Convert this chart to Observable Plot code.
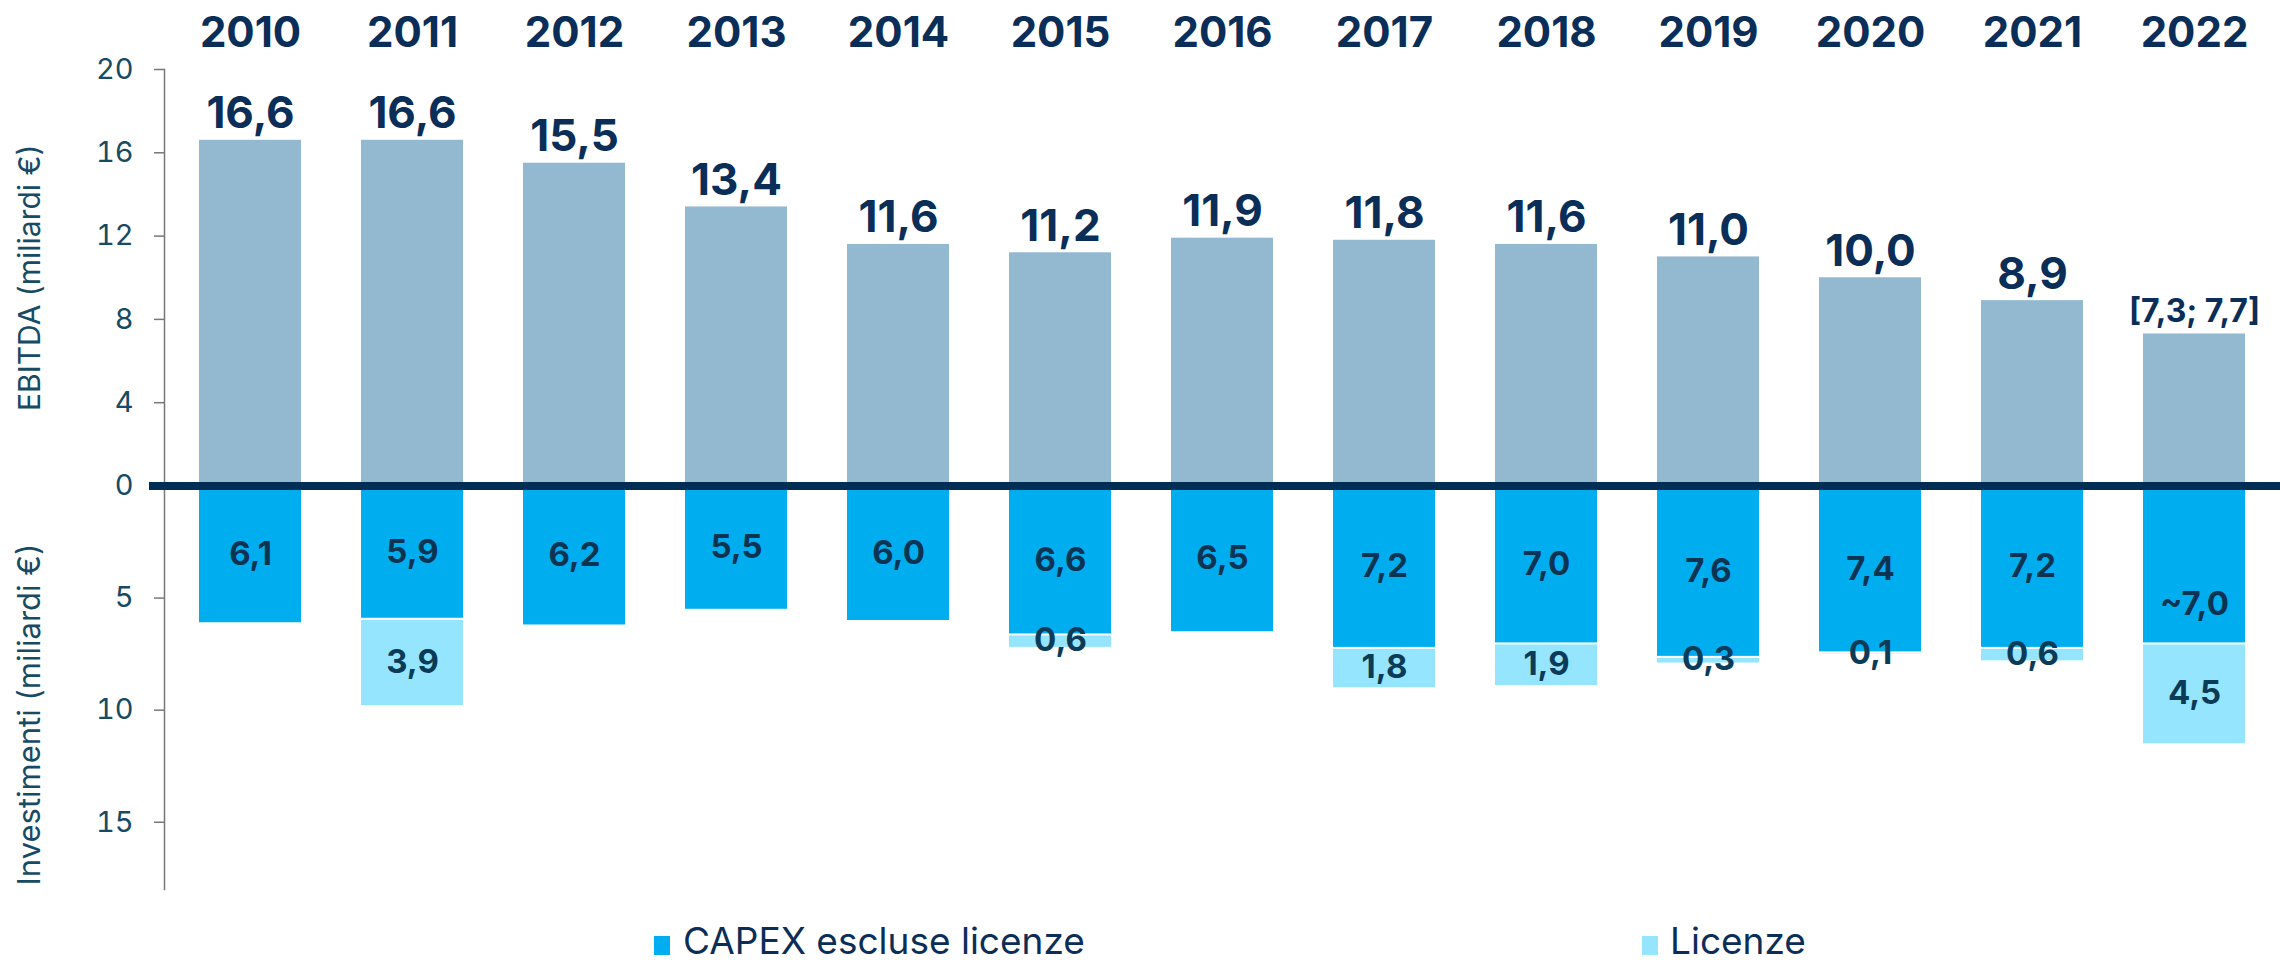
<!DOCTYPE html>
<html>
<head>
<meta charset="utf-8">
<script src="https://cdn.jsdelivr.net/npm/d3@7"></script>
<script src="https://cdn.jsdelivr.net/npm/@observablehq/plot@0.6"></script>
<style>
  html, body { margin: 0; padding: 0; background: #ffffff; }
  #chart { width: 2280px; }
  #legend { position: relative; width: 2280px; height: 45px; font-family: Inter, "Noto Sans", sans-serif; color: #0a2e57; }
  #legend .sw { position: absolute; top: 21px; width: 16px; height: 19px; }
  #legend .lb { position: absolute; top: 7px; font-size: 37px; line-height: 37px; white-space: nowrap; }
</style>
</head>
<body>
<div id="chart"></div>
<div id="legend">
  <span class="sw" style="left:654px;background:#00AEEF"></span>
  <span class="lb" style="left:683px">CAPEX escluse licenze</span>
  <span class="sw" style="left:1642px;background:#96E5FF"></span>
  <span class="lb" style="left:1670px">Licenze</span>
</div>
<script>
const years = ["2010","2011","2012","2013","2014","2015","2016","2017","2018","2019","2020","2021","2022"];
const ebitda = [16.6,16.6,15.5,13.4,11.6,11.2,11.9,11.8,11.6,11.0,10.0,8.9,7.3];
const ebitdaLabels = ["16,6","16,6","15,5","13,4","11,6","11,2","11,9","11,8","11,6","11,0","10,0","8,9","[7,3; 7,7]"];
const capex = [6.1,5.9,6.2,5.5,6.0,6.6,6.5,7.2,7.0,7.6,7.4,7.2,7.0];
const capexLabels = ["6,1","5,9","6,2","5,5","6,0","6,6","6,5","7,2","7,0","7,6","7,4","7,2","~7,0"];
const licenze = [0,3.9,0,0,0,0.6,0,1.8,1.9,0.3,0.1,0.6,4.5];
const licenzeLabels = ["","3,9","","","","0,6","","1,8","1,9","0,3","0,1","0,6","4,5"];
const ticksEbitda = [0,4,8,12,16,20];
const ticksInvest = [5,10,15];
const titleEbitda = "EBITDA (miliardi €)";
const titleInvest = "Investimenti (miliardi €)";

const rows = years.map((year, i) => ({
  year,
  ebitda: ebitda[i], ebitdaLabel: ebitdaLabels[i],
  capex: capex[i], capexLabel: capexLabels[i],
  lic: licenze[i], licLabel: licenzeLabels[i]
}));

const navy = "#0a2e57";
const inner = "#0b3352";
const tickCol = "#174a63";
const W = 2280, H = 915;

const chart = Plot.plot({
  width: W,
  height: H,
  marginLeft: 164,
  marginRight: 0,
  marginTop: 69,
  marginBottom: H - 889,
  style: { fontFamily: "Inter, 'Noto Sans', sans-serif", background: "#ffffff" },
  x: { domain: years, paddingInner: 0.368, paddingOuter: 0.184, axis: null },
  y: { type: "linear", domain: [-18, 0, 20], range: [889, 485.5, 69], axis: null },
  marks: [
    Plot.barY(rows, { x: "year", y1: 0, y2: "ebitda", fill: "#93B9D0" }),
    Plot.barY(rows, { x: "year", y1: 0, y2: d => -d.capex, fill: "#00AEEF" }),
    Plot.barY(rows.filter(d => d.lic > 0), { x: "year", y1: d => -d.capex, y2: d => -(d.capex + d.lic), fill: "#96E5FF", insetTop: 2 }),
    Plot.frame({ anchor: "left", stroke: "#777777", strokeWidth: 1.5 }),
    Plot.axisY({
      ticks: [...ticksInvest.map(v => -v), ...ticksEbitda],
      tickFormat: d => String(Math.abs(d)),
      tickSize: 10, tickPadding: 21, stroke: "#777777", strokeWidth: 1.5,
      fill: tickCol, fontSize: 29, label: null, textStroke: "none"
    }),
    Plot.ruleY([0], { stroke: "#022d55", strokeWidth: 8, insetLeft: -15 }),
    Plot.text(rows, { x: "year", text: "year", frameAnchor: "top", dy: -23, lineAnchor: "bottom", fontSize: 42, fontWeight: 700, fill: navy }),
    Plot.text(rows, { x: "year", y: "ebitda", text: "ebitdaLabel", lineAnchor: "bottom", dy: -12,
      fontSize: d => d.ebitdaLabel.length > 5 ? 32 : 44, fontWeight: 700, fill: navy }),
    Plot.text(rows.filter(d => !d.capexLabel.startsWith("~")), { x: "year", y: d => -d.capex / 2, text: "capexLabel", lineAnchor: "middle", fontSize: 33, fontWeight: 700, fill: inner }),
    Plot.text(rows.filter(d => d.capexLabel.startsWith("~")), { x: "year", y: d => -d.capex / 2, text: "capexLabel", lineAnchor: "middle", dy: 40, fontSize: 33, fontWeight: 700, fill: inner }),
    Plot.text(rows.filter(d => d.lic > 0), { x: "year", y: d => -(d.capex + d.lic / 2), text: "licLabel", lineAnchor: "middle", fontSize: 33, fontWeight: 700, fill: "#0c3b58" }),
    Plot.text([titleEbitda], { y: (ticksEbitda[0] + ticksEbitda[ticksEbitda.length - 1]) / 2, text: d => d, frameAnchor: "left", dx: -134, rotate: -90, textAnchor: "middle", lineAnchor: "middle", fontSize: 30, fill: tickCol }),
    Plot.text([titleInvest], { y: -10.2, text: d => d, frameAnchor: "left", dx: -134, rotate: -90, textAnchor: "middle", lineAnchor: "middle", fontSize: 31, fill: tickCol })
  ]
});
document.getElementById("chart").appendChild(chart);
</script>
</body>
</html>
